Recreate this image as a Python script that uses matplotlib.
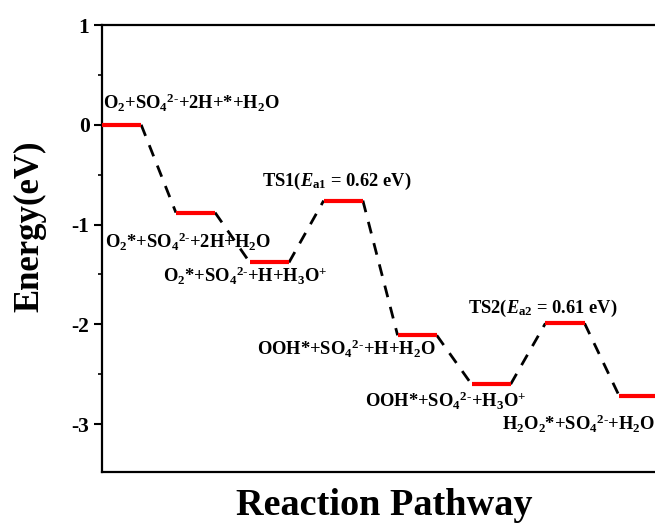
import matplotlib
matplotlib.use("Agg")
import matplotlib.pyplot as plt
from matplotlib.ticker import MultipleLocator

plt.rcParams['font.family'] = ['Liberation Serif', 'DejaVu Serif']
plt.rcParams['font.weight'] = 'bold'
plt.rcParams['mathtext.fontset'] = 'custom'
plt.rcParams['mathtext.rm'] = 'Liberation Serif:bold'
plt.rcParams['mathtext.bf'] = 'Liberation Serif:bold'
plt.rcParams['mathtext.it'] = 'Liberation Serif:italic:bold'

# data
steps = [0, 1, 2, 3, 4, 5, 6, 7]
energies = [0.00, -0.88, -1.38, -0.76, -2.11, -2.60, -1.99, -2.72]
labels = [
    r'O$_2$+SO$_4$$^{2\text{-}}$+2H+*+H$_2$O',
    r'O$_2$*+SO$_4$$^{2\text{-}}$+2H+H$_2$O',
    r'O$_2$*+SO$_4$$^{2\text{-}}$+H+H$_3$O$^{+}$',
    r'TS1($\mathit{E}_{\mathrm{a1}}$ = 0.62 eV)',
    r'OOH*+SO$_4$$^{2\text{-}}$+H+H$_2$O',
    r'OOH*+SO$_4$$^{2\text{-}}$+H$_3$O$^{+}$',
    r'TS2($\mathit{E}_{\mathrm{a2}}$ = 0.61 eV)',
    r'H$_2$O$_2$*+SO$_4$$^{2\text{-}}$+H$_2$O',
]
yticks = [1, 0, -1, -2, -3]

# layout (label offsets relative to each level: dx, dy)
half = 0.265
label_offsets = [(-0.25, 0.22), (-1.224, -0.29), (-1.44, -0.14), (-1.10, 0.19),
                 (-2.17, -0.14), (-1.71, -0.17), (-1.31, 0.15), (-1.85, -0.28)]

fig = plt.figure(figsize=(6.55, 5.26), dpi=100)
ax = fig.add_axes([102/655, 54/526, 598/655, 447/526])

for i, (x, e) in enumerate(zip(steps, energies)):
    ax.plot([x - half, x + half], [e, e], color='#ff0000', lw=3, solid_capstyle='butt', zorder=3)
    if i < len(steps) - 1:
        ax.plot([x + half, steps[i + 1] - half], [e, energies[i + 1]], color='black',
                lw=2, linestyle=(0, (4.3, 3.6)), zorder=2)

for (x, e, lab, (dx, dy)) in zip(steps, energies, labels, label_offsets):
    ax.text(x + dx, e + dy, lab, ha='left', va='center', fontsize=13.3, fontweight='bold')

ax.set_xlim(-half, -half + 598/73.9)
ax.set_ylim(-3.48, 1.0)
ax.set_yticks(yticks)
ax.set_yticklabels([f'{t}' for t in yticks])
ax.yaxis.set_minor_locator(MultipleLocator(0.5))
ax.set_xticks([])
ax.tick_params(axis='y', which='major', direction='out', length=6, width=1.5, labelsize=15.5, pad=3)
ax.tick_params(axis='y', which='minor', direction='out', length=3, width=1.2)
for lab in ax.get_yticklabels():
    lab.set_fontweight('bold')
for s in ax.spines.values():
    s.set_linewidth(1.6)

ax.set_ylabel('Energy(eV)', fontsize=25, fontweight='bold')
ax.yaxis.set_label_coords(-0.120, 0.55)
ax.set_xlabel('Reaction Pathway', fontsize=27.5, fontweight='bold')
ax.xaxis.set_label_coords(0.4716, -0.076)
ax.xaxis.label.set_va('center')
ax.yaxis.label.set_va('center')

fig.savefig('out.png', dpi=100)
